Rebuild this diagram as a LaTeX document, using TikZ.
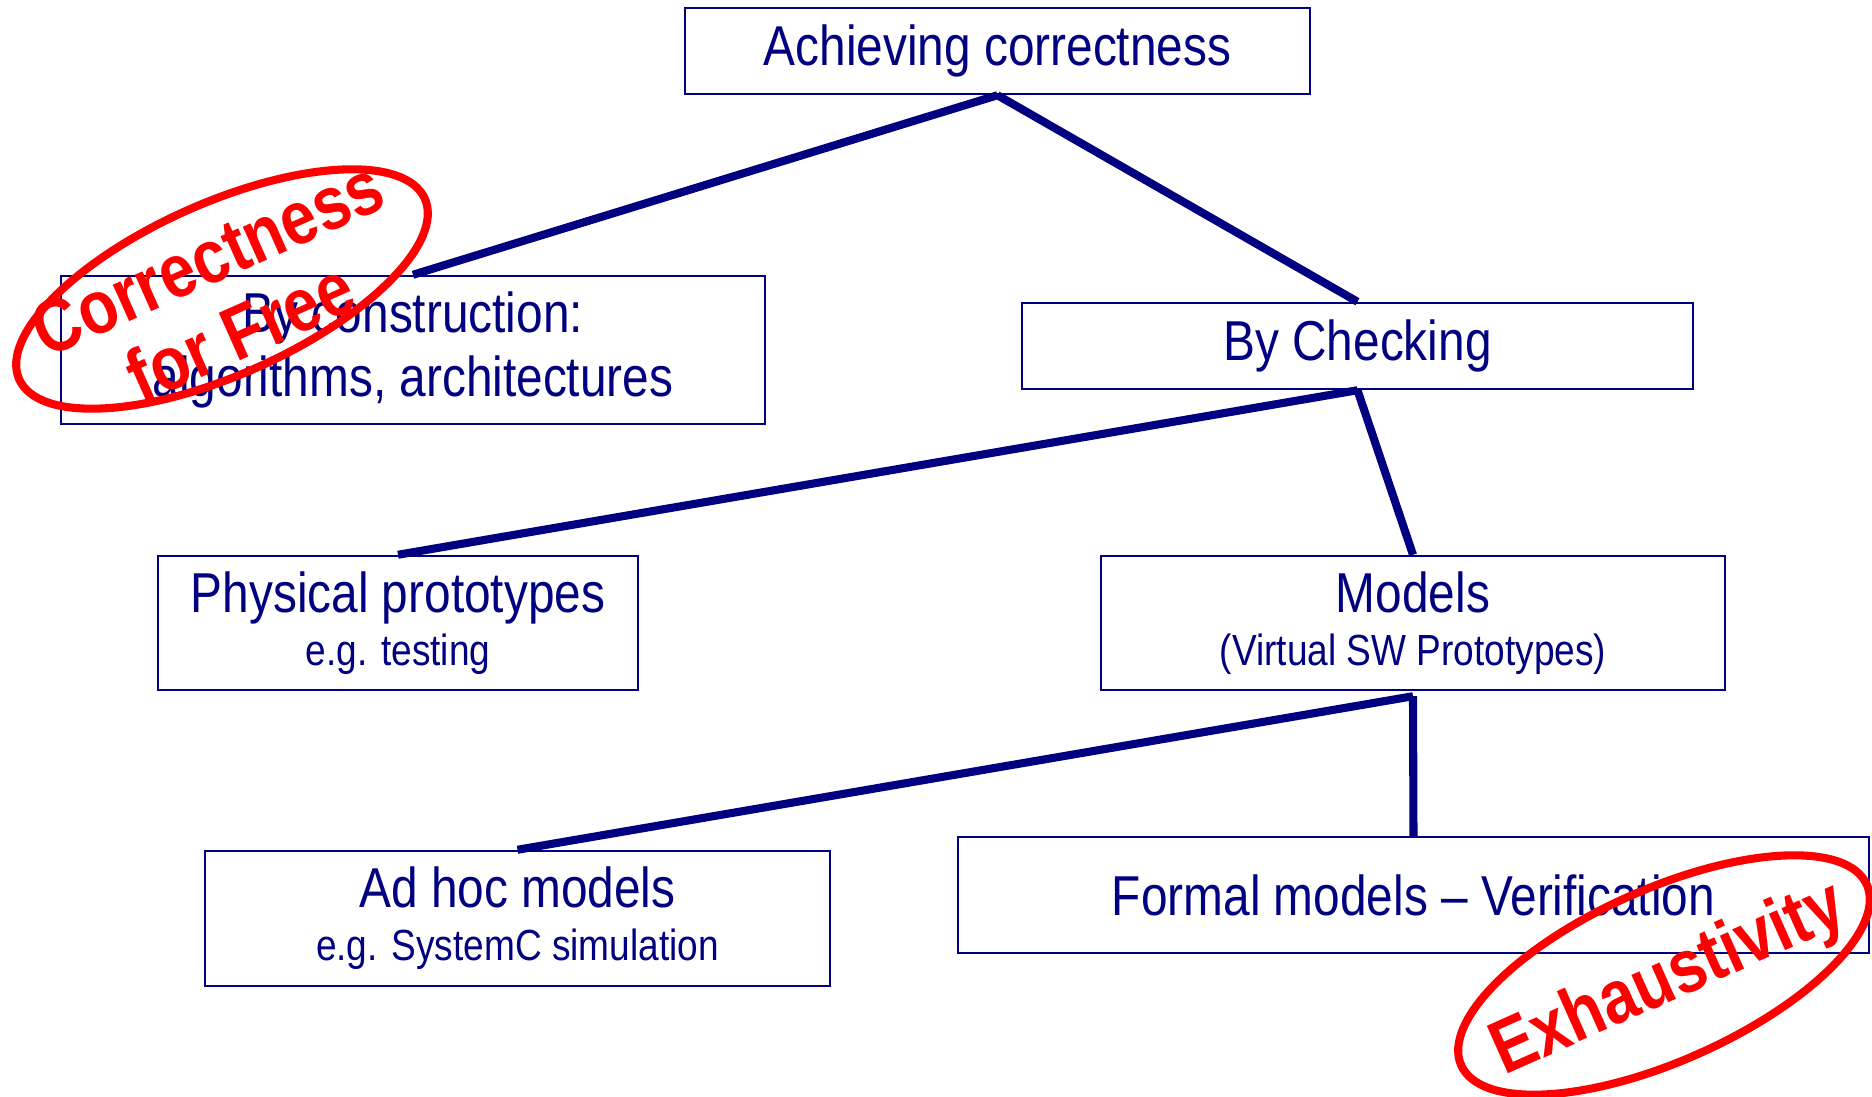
\documentclass[tikz,border=0pt]{standalone}
\usepackage{fontspec}
\usepackage{tikz}
\usetikzlibrary{shapes.geometric}
\newfontfamily\slidefont[FakeStretch=0.85]{Liberation Sans}
\definecolor{navy}{RGB}{0,0,128}
\definecolor{stampred}{RGB}{255,0,0}
\newcommand{\bigtext}{\slidefont\fontsize{16}{18}\selectfont}
\newcommand{\smalltext}{\fontsize{12.4}{18}\selectfont}
\tikzstyle{box}=[rectangle,
draw=navy,
line width=0.7pt,
text=navy,
inner sep=0pt,
align=center,
font=\bigtext]
\tikzstyle{branch}=[draw=navy,
line width=2.3pt]
\tikzstyle{stamp}=[ellipse,
draw=stampred,
line width=2.3pt,
inner sep=0pt,
minimum width=4.44cm,
minimum height=1.72cm,
rotate=24]
\tikzstyle{stamptext}=[text=stampred,
inner sep=0pt,
align=center,
font=\slidefont\bfseries\fontsize{21.5}{23}\selectfont,
rotate=24]

\begin{document}
\begin{tikzpicture}
		% page frame, same size as the slide
		\useasboundingbox (0,0) rectangle (18.72,-10.97);
		
		% The tree of boxes
		\node (goal)   [box,minimum width=6.25cm,minimum height=0.86cm] at (9.975,-0.51) {Achieving correctness};
		\node (constr) [box,minimum width=7.04cm,minimum height=1.48cm] at (4.13,-3.50) {By construction:\\algorithms, architectures};
		\node (check)  [box,minimum width=6.71cm,minimum height=0.86cm] at (13.575,-3.46) {By Checking};
		\node (phys)   [box,minimum width=4.80cm,minimum height=1.34cm] at (3.98,-6.23) {Physical prototypes\\[-3pt]{\smalltext e.g. testing}};
		\node (models) [box,minimum width=6.24cm,minimum height=1.34cm] at (14.13,-6.23) {Models\\[-3pt]{\smalltext (Virtual SW Prototypes)}};
		\node (adhoc)  [box,minimum width=6.25cm,minimum height=1.35cm] at (5.175,-9.185) {Ad hoc models\\[-3pt]{\smalltext e.g. SystemC simulation}};
		\node (formal) [box,minimum width=9.11cm,minimum height=1.16cm] at (14.135,-8.95) {Formal models – Verification};
		
		% branches between the boxes
		\path[branch]
		(goal.south) edge (constr.north)
		(goal.south) edge (check.north)
		(check.south) edge (phys.north)
		(check.south) edge (models.north)
		([yshift=-0.5mm]models.south) edge (adhoc.north)
		([yshift=-0.5mm]models.south) edge (formal.north)
		;
		
		% red stamps drawn on top
		\node (stampA) [stamp] at (2.22,-2.89) {};
		\node (freeA)  [stamptext] at (2.24,-2.95) {Correctness\\for Free};
		\node (stampB) [stamp] at (16.64,-9.75) {};
		\node (fullB)  [stamptext] at (16.69,-9.81) {Exhaustivity};
\end{tikzpicture}
\end{document}
